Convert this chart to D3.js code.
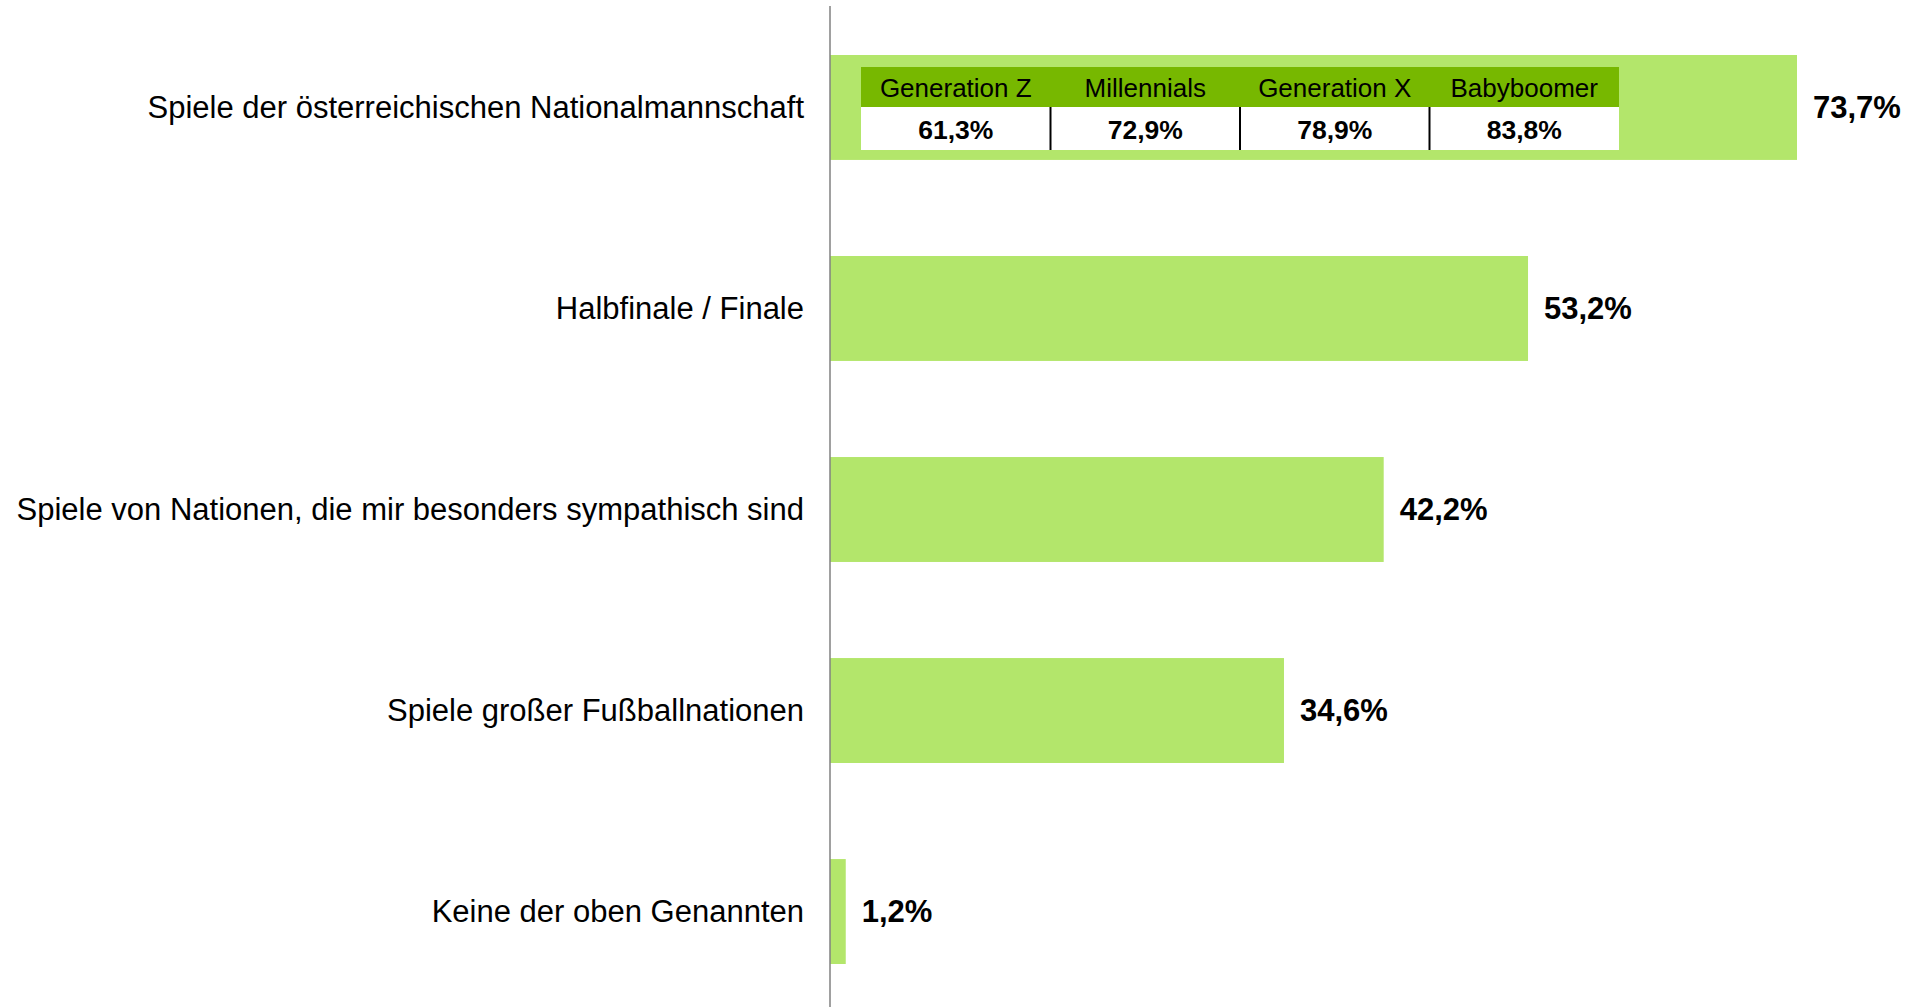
<!DOCTYPE html>
<html lang="de">
<head>
<meta charset="utf-8">
<script src="https://cdn.jsdelivr.net/npm/d3@7"></script>
<style>
  html, body { margin: 0; padding: 0; background: #fff; }
  svg { display: block; font-family: "Liberation Sans", Arial, sans-serif; }
</style>
</head>
<body>
<div id="chart"></div>
<script>
// data
const categories = [
  "Spiele der österreichischen Nationalmannschaft",
  "Halbfinale / Finale",
  "Spiele von Nationen, die mir besonders sympathisch sind",
  "Spiele großer Fußballnationen",
  "Keine der oben Genannten"
]
const values = [73.7, 53.2, 42.2, 34.6, 1.2]

const generations = ["Generation Z", "Millennials", "Generation X", "Babyboomer"]
const generationValues = [61.3, 72.9, 78.9, 83.8]

const fmt = v => d3.format(".1f")(v).replace(".", ",") + "%"

const width = 1914
const height = 1007
const axisX = 830

const svg = d3.select("#chart").append("svg")
    .attr("width", width)
    .attr("height", height)

const x = d3.scaleLinear().domain([0, 73.7]).range([axisX, 1797])
const y = d3.scaleBand().domain(categories).range([55, 964]).paddingInner(0.478)

const data = categories.map((c, i) => ({ cat: c, val: values[i] }))

svg.selectAll("rect.bar")
    .data(data)
    .join("rect")
    .attr("class", "bar")
    .attr("x", x(0))
    .attr("y", d => y(d.cat))
    .attr("width", d => x(d.val) - x(0))
    .attr("height", y.bandwidth())
    .attr("fill", "#b3e66b")

// category labels
svg.selectAll("text.cat")
    .data(data)
    .join("text")
    .attr("class", "cat")
    .attr("x", axisX - 26)
    .attr("y", d => y(d.cat) + y.bandwidth() / 2)
    .attr("dy", "0.35em")
    .attr("text-anchor", "end")
    .style("font-size", "31px")
    .style("fill", "#000")
    .text(d => d.cat)

// value labels
svg.selectAll("text.val")
    .data(data)
    .join("text")
    .attr("class", "val")
    .attr("x", d => x(d.val) + 16)
    .attr("y", d => y(d.cat) + y.bandwidth() / 2)
    .attr("dy", "0.35em")
    .style("font-size", "31px")
    .style("font-weight", "bold")
    .style("fill", "#000")
    .text(d => fmt(d.val))

// axis line
svg.append("line")
    .attr("x1", axisX).attr("x2", axisX)
    .attr("y1", 6).attr("y2", height)
    .attr("stroke", "#808080")
    .attr("stroke-width", 1.5)

// inset table with generation breakdown
const col = d3.scaleBand().domain(generations).range([861, 1619])
const headTop = 67, headBottom = 107, rowBottom = 150
const gens = generations.map((g, i) => ({ g: g, v: generationValues[i] }))

svg.append("rect")
    .attr("x", col.range()[0]).attr("y", headTop)
    .attr("width", col.range()[1] - col.range()[0])
    .attr("height", headBottom - headTop)
    .attr("fill", "#77b800")

svg.append("rect")
    .attr("x", col.range()[0]).attr("y", headBottom)
    .attr("width", col.range()[1] - col.range()[0])
    .attr("height", rowBottom - headBottom)
    .attr("fill", "#fff")

svg.selectAll("text.gen")
    .data(gens)
    .join("text")
    .attr("class", "gen")
    .attr("x", d => col(d.g) + col.bandwidth() / 2)
    .attr("y", (headTop + headBottom) / 2 + 1)
    .attr("dy", "0.35em")
    .attr("text-anchor", "middle")
    .style("font-size", "26px")
    .style("fill", "#000")
    .text(d => d.g)

svg.selectAll("text.genval")
    .data(gens)
    .join("text")
    .attr("class", "genval")
    .attr("x", d => col(d.g) + col.bandwidth() / 2)
    .attr("y", (headBottom + rowBottom) / 2 + 1)
    .attr("dy", "0.35em")
    .attr("text-anchor", "middle")
    .style("font-size", "26.5px")
    .style("font-weight", "bold")
    .style("fill", "#000")
    .text(d => fmt(d.v))

svg.selectAll("line.sep")
    .data(generations.slice(1))
    .join("line")
    .attr("class", "sep")
    .attr("x1", d => col(d)).attr("x2", d => col(d))
    .attr("y1", headBottom).attr("y2", rowBottom)
    .attr("stroke", "#000")
    .attr("stroke-width", 2)
</script>
</body>
</html>
